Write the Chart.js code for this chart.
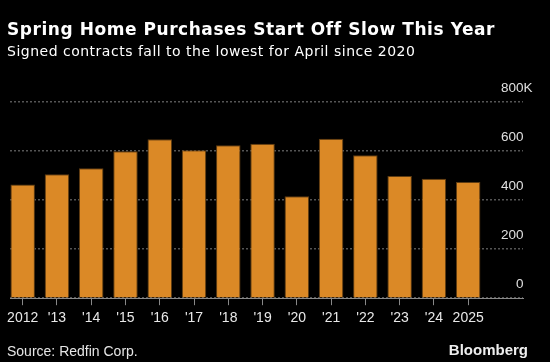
<!DOCTYPE html>
<html>
<head>
<meta charset="utf-8">
<script src="https://cdn.jsdelivr.net/npm/chart.js@4.4.1/dist/chart.umd.min.js"></script>
<style>
  body { margin: 0; background: #000; }
  #wrap { position: relative; width: 550px; height: 362px; background: #000; overflow: hidden; }
  #myChart { position: absolute; left: 0; top: 0; }
  .txt { position: absolute; color: #fff; font-family: "Liberation Sans", Arial, sans-serif; line-height: 1; white-space: nowrap; }
  #baslik { left: 7px; top: 21px; font-family: "DejaVu Sans", sans-serif; font-size: 17px; font-weight: bold; letter-spacing: 0.55px; }
  #altbaslik { left: 7px; top: 44px; font-family: "DejaVu Sans", sans-serif; font-size: 14px; letter-spacing: 0.5px; }
  #kaynak { left: 7px; top: 344px; font-size: 14px; color: #e6e6e6; }
  #logo { right: 22px; top: 342px; font-size: 15px; font-weight: bold; color: #eee; }
</style>
</head>
<body>
<div id="wrap">
  <canvas id="myChart" width="550" height="362"></canvas>
  <div class="txt" id="baslik">Spring Home Purchases Start Off Slow This Year</div>
  <div class="txt" id="altbaslik">Signed contracts fall to the lowest for April since 2020</div>
  <div class="txt" id="kaynak">Source: Redfin Corp.</div>
  <div class="txt" id="logo">Bloomberg</div>
</div>
<script>
// yillar ve imzalanan sozlesmeler (bin)
var yillar = ["2012", "'13", "'14", "'15", "'16", "'17", "'18", "'19", "'20", "'21", "'22", "'23", "'24", "2025"];
var sozlesmeler = [464, 505, 530, 599, 648, 603, 624, 630, 416, 650, 583, 498, 487, 474];
var yEtiketleri = [0, 200, 400, 600, 800];

var ctx = document.getElementById('myChart').getContext('2d');

var noktalar = [];
for (let i = 0; i < sozlesmeler.length; i++) {
    noktalar.push({ x: i, y: sozlesmeler[i] });
}

var myChart = new Chart(ctx, {
    type: 'bar',
    data: {
        datasets: [{
            label: 'Signed contracts',
            data: noktalar,
            backgroundColor: "#db8926",
            borderColor: "#5e3c12",
            borderWidth: 1,
            categoryPercentage: 1,
            barPercentage: 0.715
        }]
    },
    options: {
        responsive: false,
        animation: false,
        events: [],
        layout: { padding: { left: 10, right: 27, top: 102, bottom: 30 } },
        plugins: {
            legend: { display: false },
            tooltip: { enabled: false }
        },
        scales: {
            x: {
                type: 'linear',
                offset: false,
                min: -0.37,
                max: 14.6,
                afterBuildTicks: function (scale) {
                    scale.ticks = scale.ticks.filter(t => t.value >= 0 && t.value < yillar.length);
                },
                grid: { display: true, offset: false, drawOnChartArea: false, drawTicks: true, tickLength: 7, tickColor: '#888', color: '#888' },
                border: { display: true, color: '#8a8a8a', width: 1 },
                ticks: {
                    stepSize: 1,
                    includeBounds: false,
                    autoSkip: false,
                    maxRotation: 0,
                    padding: 5,
                    color: '#e8e8e8',
                    font: { family: 'Liberation Sans', size: 14 },
                    callback: function (v) { return yillar[v] !== undefined ? yillar[v] : ''; }
                }
            },
            y: {
                position: 'right',
                min: 0,
                max: 800,
                afterFit: function (scale) { scale.width = 0; },
                afterBuildTicks: function (scale) {
                    scale.ticks = yEtiketleri.map(v => ({ value: v }));
                },
                grid: { color: '#555', lineWidth: 1.5, drawTicks: false },
                border: { display: false, dash: [2, 2] },
                ticks: {
                    mirror: true,
                    crossAlign: 'far',
                    padding: 9.5,
                    labelOffset: -13.5,
                    color: '#e0e0e0',
                    font: { family: 'Liberation Sans', size: 13.5 },
                    callback: function (v) {
                        if (v === 800) return '800K';
                        if (v === 0) return '\u2007\u20070';
                        return String(v);
                    }
                }
            }
        }
    }
});
</script>
</body>
</html>
